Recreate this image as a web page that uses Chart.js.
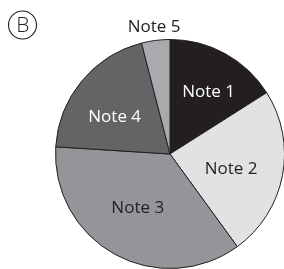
<!DOCTYPE html>
<html>
<head>
<meta charset="utf-8">
<script src="https://cdn.jsdelivr.net/npm/chart.js@4"></script>
<style>
html,body{margin:0;padding:0;background:#fff;overflow:hidden;width:284px;height:269px;}
#wrap{position:absolute;left:0;top:0;width:300px;height:280px;}
</style>
</head>
<body>
<div id="wrap"><canvas id="c" width="300" height="280"></canvas></div>
<script>
const categories = ["Note 1", "Note 2", "Note 3", "Note 4", "Note 5"];
const values = [16, 24, 36, 20, 4];
const sliceColors = ["#231f20", "#e1e2e3", "#939598", "#636466", "#a8aaad"];
const labelColors = ["#ffffff", "#231f20", "#231f20", "#ffffff", "#231f20"];
const panelLabel = "B";

const labelPlugin = {
  id: 'sliceLabels',
  afterDatasetsDraw(chart, args, opts) {
    const ctx = chart.ctx;
    const meta = chart.getDatasetMeta(0);
    ctx.save();
    ctx.font = opts.font;
    ctx.textAlign = 'center';
    ctx.textBaseline = 'middle';
    meta.data.forEach((arc, i) => {
      const p = arc.getProps(['x', 'y', 'startAngle', 'endAngle', 'outerRadius'], true);
      const mid = (p.startAngle + p.endAngle) / 2 + opts.angleShift[i] * Math.PI / 180;
      const r = opts.outside[i] ? p.outerRadius + opts.outsideGap : p.outerRadius * opts.radius[i];
      ctx.fillStyle = labelColors[i];
      ctx.fillText(categories[i], p.x + Math.cos(mid) * r, p.y + Math.sin(mid) * r);
    });
    // panel marker
    ctx.beginPath();
    ctx.lineWidth = 1.1;
    ctx.strokeStyle = '#231f20';
    ctx.arc(22.5, 25, 14, 0, Math.PI * 2);
    ctx.stroke();
    ctx.fillStyle = '#231f20';
    ctx.font = '300 21px "Open Sans"';
    ctx.fillText(panelLabel, 22.8, 26);
    ctx.restore();
  }
};

new Chart(document.getElementById('c'), {
  type: 'pie',
  data: {
    labels: categories,
    datasets: [{
      data: values,
      backgroundColor: sliceColors,
      borderColor: '#231f20',
      borderWidth: 1
    }]
  },
  options: {
    responsive: false,
    animation: false,
    devicePixelRatio: 1,
    layout: { padding: { left: 55, top: 39, right: 15, bottom: 11 } },
    plugins: {
      legend: { display: false },
      tooltip: { enabled: false },
      sliceLabels: {
        font: '17px "Open Sans"',
        radius: [0.64, 0.55, 0.55, 0.58, 1],
        angleShift: [3, 3, 2, -6, 0],
        outside: [false, false, false, false, true],
        outsideGap: 13
      }
    }
  },
  plugins: [labelPlugin]
});
</script>
</body>
</html>
